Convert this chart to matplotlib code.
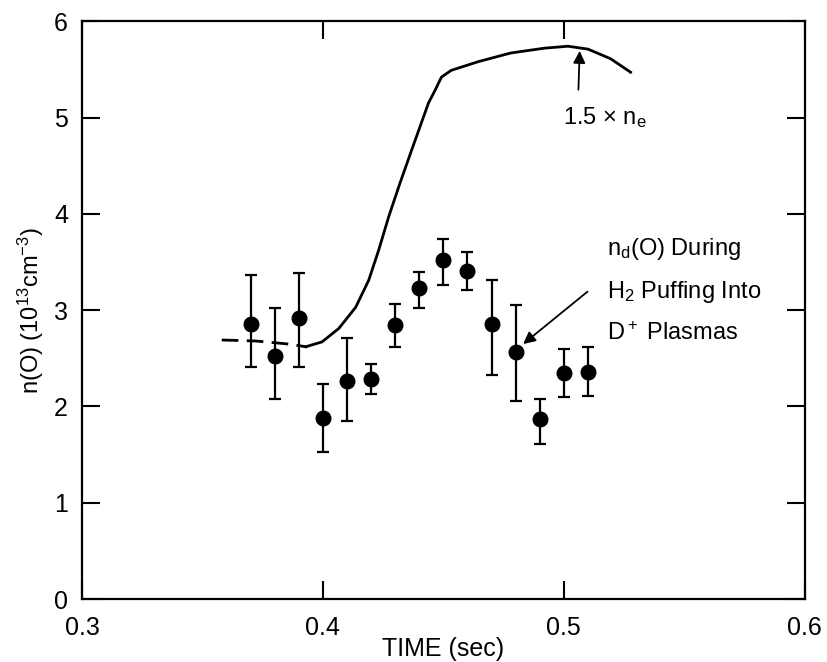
import matplotlib
matplotlib.use('Agg')
import matplotlib.pyplot as plt
import numpy as np

plt.rcParams['font.family'] = ['Liberation Sans', 'DejaVu Sans']
plt.rcParams['mathtext.fontset'] = 'custom'
plt.rcParams['mathtext.rm'] = 'Liberation Sans'
plt.rcParams['mathtext.it'] = 'Liberation Sans:italic'
plt.rcParams['mathtext.bf'] = 'Liberation Sans:bold'

# n_d(0) data points with error bars
t = [0.37, 0.38, 0.39, 0.40, 0.41, 0.42, 0.43, 0.44, 0.45, 0.46, 0.47, 0.48, 0.49, 0.50, 0.51]
nd = [2.86, 2.52, 2.92, 1.88, 2.26, 2.29, 2.85, 3.23, 3.52, 3.41, 2.86, 2.57, 1.87, 2.35, 2.36]
nd_hi = [3.36, 3.02, 3.39, 2.23, 2.71, 2.44, 3.06, 3.40, 3.74, 3.60, 3.31, 3.05, 2.08, 2.60, 2.62]
nd_lo = [2.41, 2.08, 2.41, 1.53, 1.85, 2.13, 2.62, 3.02, 3.26, 3.21, 2.33, 2.06, 1.61, 2.10, 2.11]

# 1.5 x n_e curve (dashed start, then solid)
t_dash = [0.358, 0.372, 0.385, 0.393]
ne_dash = [2.69, 2.68, 2.65, 2.62]
t_ne = [0.393, 0.3942, 0.3996, 0.4066, 0.4136, 0.419, 0.4231, 0.4273, 0.4320,
        0.4368, 0.4438, 0.4467, 0.4492, 0.4533, 0.4645, 0.478, 0.492, 0.5017,
        0.51, 0.5194, 0.5277]
ne = [2.62, 2.63, 2.67, 2.81, 3.03, 3.31, 3.62, 3.97, 4.32,
      4.66, 5.15, 5.29, 5.42, 5.49, 5.58, 5.67, 5.72, 5.74,
      5.71, 5.61, 5.47]

fig = plt.figure(figsize=(8.28, 6.62), dpi=100)
ax = fig.add_axes([0.099, 0.095, 0.873, 0.873])

yerr = [np.array(nd) - np.array(nd_lo), np.array(nd_hi) - np.array(nd)]
ax.errorbar(t, nd, yerr=yerr, fmt='o', color='k', markersize=10.5,
            elinewidth=1.6, capsize=4.5, capthick=1.6)

ax.plot(t_dash, ne_dash, color='k', linewidth=2, linestyle=(0, (6, 3)))
ax.plot(t_ne, ne, color='k', linewidth=2, solid_joinstyle='round')

ax.annotate('', xy=(0.5066, 5.72), xytext=(0.5060, 5.26),
            arrowprops=dict(arrowstyle='-|>', color='k', lw=1.3, mutation_scale=18))
ax.text(0.4996, 5.0, '1.5 \u00d7 n$_\\mathrm{e}$', fontsize=17, va='center', ha='left')

ax.annotate('', xy=(0.4822, 2.63), xytext=(0.5107, 3.21),
            arrowprops=dict(arrowstyle='-|>', color='k', lw=1.3, mutation_scale=18))
ax.text(0.518, 3.64, r'n$_\mathrm{d}$(O) During', fontsize=17, va='center', ha='left')
ax.text(0.518, 3.19, r'H$_2$ Puffing Into', fontsize=17, va='center', ha='left')
ax.text(0.518, 2.76, r'D$^+$ Plasmas', fontsize=17, va='center', ha='left')

ax.set_xlim(0.3, 0.6)
ax.set_ylim(0, 6)
ax.set_xticks([0.3, 0.4, 0.5, 0.6])
ax.set_xticklabels(['0.3', '0.4', '0.5', '0.6'])
ax.set_yticks([0, 1, 2, 3, 4, 5, 6])
ax.tick_params(direction='in', length=13, width=1.5, labelsize=18,
               top=True, right=True)
ax.tick_params(axis='x', pad=12)
ax.tick_params(axis='y', pad=10)
for s in ax.spines.values():
    s.set_linewidth(1.6)

ax.set_xlabel('TIME (sec)', fontsize=18, labelpad=-2)
ax.set_ylabel(r'n(O) (10$^{13}$cm$^{-3}$)', fontsize=17, labelpad=6)

plt.savefig('out.png', dpi=100)
